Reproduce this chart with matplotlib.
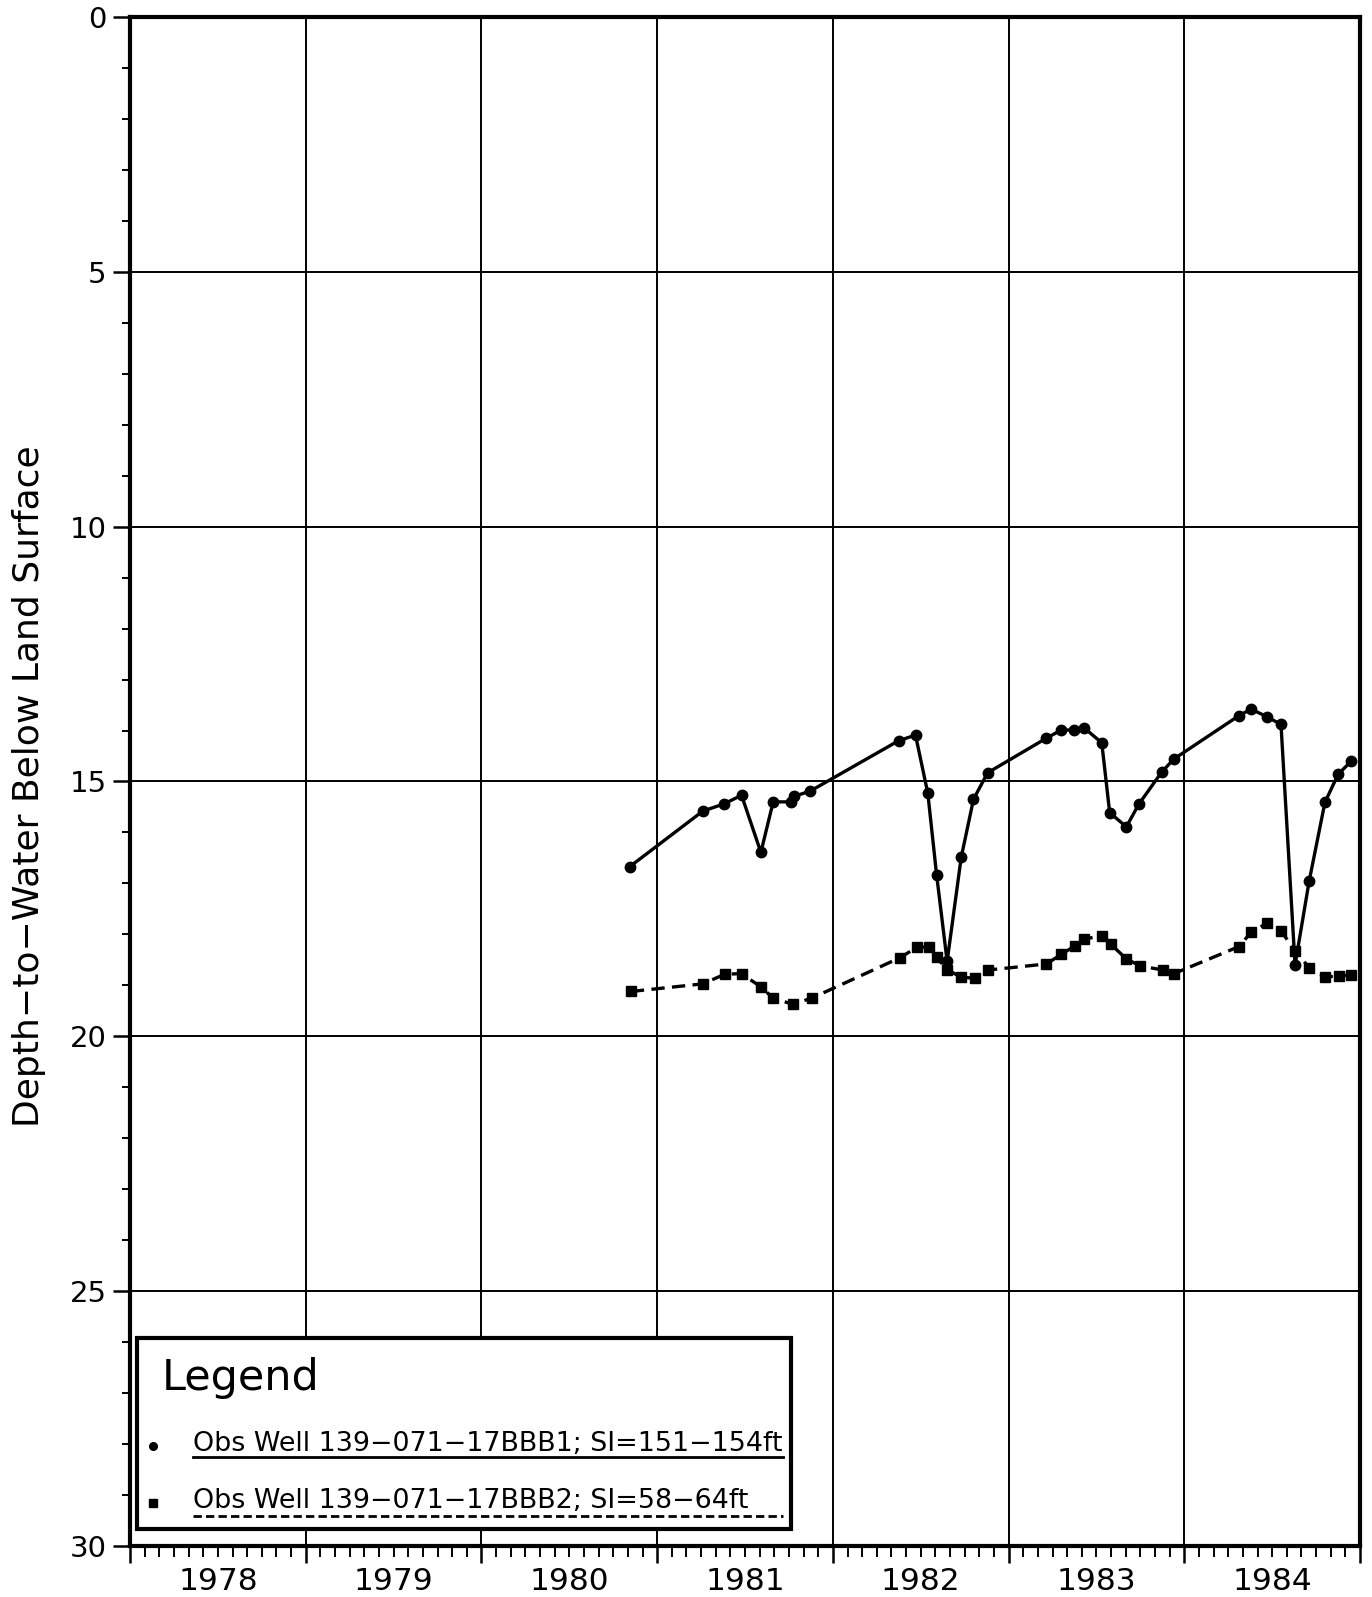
import matplotlib
matplotlib.use("Agg")
import matplotlib.pyplot as plt
import numpy as np
from matplotlib.ticker import MultipleLocator, FixedLocator, NullFormatter
import matplotlib.transforms as mtransforms

# ---- data (decimal years, depth to water in ft) ----
bbb1_time = [1980.844, 1981.26, 1981.38, 1981.48, 1981.59, 1981.66, 1981.76, 1981.78,
             1981.87, 1982.374, 1982.47, 1982.54, 1982.59, 1982.65, 1982.73, 1982.80,
             1982.88, 1983.215, 1983.30, 1983.37, 1983.43, 1983.53, 1983.575, 1983.67,
             1983.74, 1983.87, 1983.94, 1984.31, 1984.38, 1984.47, 1984.55, 1984.63,
             1984.71, 1984.80, 1984.875, 1984.95]
bbb1_depth = [16.67, 15.58, 15.44, 15.27, 16.39, 15.40, 15.40, 15.29,
              15.19, 14.20, 14.09, 15.23, 16.83, 18.53, 16.49, 15.35,
              14.83, 14.15, 13.99, 13.99, 13.95, 14.24, 15.61, 15.89,
              15.45, 14.82, 14.56, 13.71, 13.58, 13.73, 13.88, 18.60,
              16.96, 15.41, 14.86, 14.60]

bbb2_time = [1980.85, 1981.26, 1981.385, 1981.48, 1981.59, 1981.66, 1981.77, 1981.88,
             1982.38, 1982.48, 1982.545, 1982.59, 1982.65, 1982.73, 1982.81, 1982.88,
             1983.215, 1983.30, 1983.38, 1983.43, 1983.53, 1983.58, 1983.67, 1983.75,
             1983.88, 1983.94, 1984.31, 1984.38, 1984.47, 1984.55, 1984.63, 1984.71,
             1984.80, 1984.88, 1984.95]
bbb2_depth = [19.12, 18.97, 18.78, 18.77, 19.03, 19.25, 19.37, 19.25,
              18.46, 18.25, 18.25, 18.45, 18.69, 18.84, 18.86, 18.70,
              18.58, 18.39, 18.22, 18.09, 18.03, 18.19, 18.48, 18.62,
              18.70, 18.77, 18.24, 17.96, 17.78, 17.93, 18.32, 18.65,
              18.84, 18.81, 18.80]

years = [1978, 1979, 1980, 1981, 1982, 1983, 1984]
year_labels = ["1978", "1979", "1980", "1981", "1982", "1983", "1984"]
label1 = "Obs Well 139\u2212071\u221217BBB1; SI=151\u2212154ft"
label2 = "Obs Well 139\u2212071\u221217BBB2; SI=58\u221264ft"
ylabel = "Depth\u2212to\u2212Water Below Land Surface"

plt.rcParams['font.family'] = ['DejaVu Sans']

fig = plt.figure(figsize=(13.72, 15.97), dpi=100)
ax = fig.add_axes([0.0948, 0.0319, 0.9913 - 0.0948, 0.9894 - 0.0319])

ax.plot(bbb1_time, bbb1_depth, color='black', lw=2.4, marker='o', ms=7.5, zorder=3)
ax.plot(bbb2_time, bbb2_depth, color='black', lw=2.4, ls=(0, (4, 2.2)), marker='s',
        ms=7.5, zorder=3)

ax.set_xlim(1978, 1985)
ax.set_ylim(30, 0)

# grid
ax.xaxis.set_major_locator(FixedLocator(np.arange(1978, 1986, 1)))
ax.xaxis.set_minor_locator(MultipleLocator(1 / 12))
ax.xaxis.set_major_formatter(NullFormatter())
ax.yaxis.set_major_locator(MultipleLocator(5))
ax.yaxis.set_minor_locator(MultipleLocator(1))
ax.grid(True, which='major', color='black', lw=1.4)
ax.set_axisbelow(True)

ax.tick_params(axis='x', which='major', direction='out', length=12, width=1.8)
ax.tick_params(axis='x', which='minor', direction='out', length=8, width=1.4)
ax.tick_params(axis='y', which='major', direction='out', length=12, width=1.8,
               labelsize=21, pad=5)
ax.tick_params(axis='y', which='minor', direction='out', length=6, width=1.4)

for s in ax.spines.values():
    s.set_linewidth(3.0)
    s.set_color('black')

# year labels centred in each year
trans = mtransforms.blended_transform_factory(ax.transData, ax.transAxes)
for y, lab in zip(years, year_labels):
    ax.text(y + 0.5, -0.0235, lab, transform=trans, ha='center', va='center',
            fontsize=22.5)

fig.text(0.021, 0.508, ylabel, rotation=90, ha='center', va='center', fontsize=26)

# legend box
ta = ax.transAxes
box = plt.Rectangle((0.006, 0.011), 0.531, 0.125, transform=ta, facecolor='white',
                    edgecolor='black', lw=3.0, zorder=5)
ax.add_patch(box)
ax.text(0.026, 0.110, "Legend", transform=ta, ha='left', va='center', fontsize=31,
        zorder=6)
ax.plot([0.0187], [0.0654], transform=ta, marker='o', ms=5.5, color='black', zorder=6,
        clip_on=False)
ax.plot([0.0187], [0.0281], transform=ta, marker='s', ms=5.5, color='black', zorder=6,
        clip_on=False)
ax.text(0.051, 0.0665, label1, transform=ta, ha='left', va='center', fontsize=19.4,
        zorder=6)
ax.text(0.051, 0.0292, label2, transform=ta, ha='left', va='center', fontsize=19.4,
        zorder=6)
ax.plot([0.051, 0.531], [0.058, 0.058], transform=ta, color='black', lw=2.0, zorder=6)
ax.plot([0.051, 0.531], [0.0196, 0.0196], transform=ta, color='black', lw=2.0,
        ls=(0, (3, 1.5)), zorder=6)

fig.savefig("out.png", dpi=100, facecolor='white')
